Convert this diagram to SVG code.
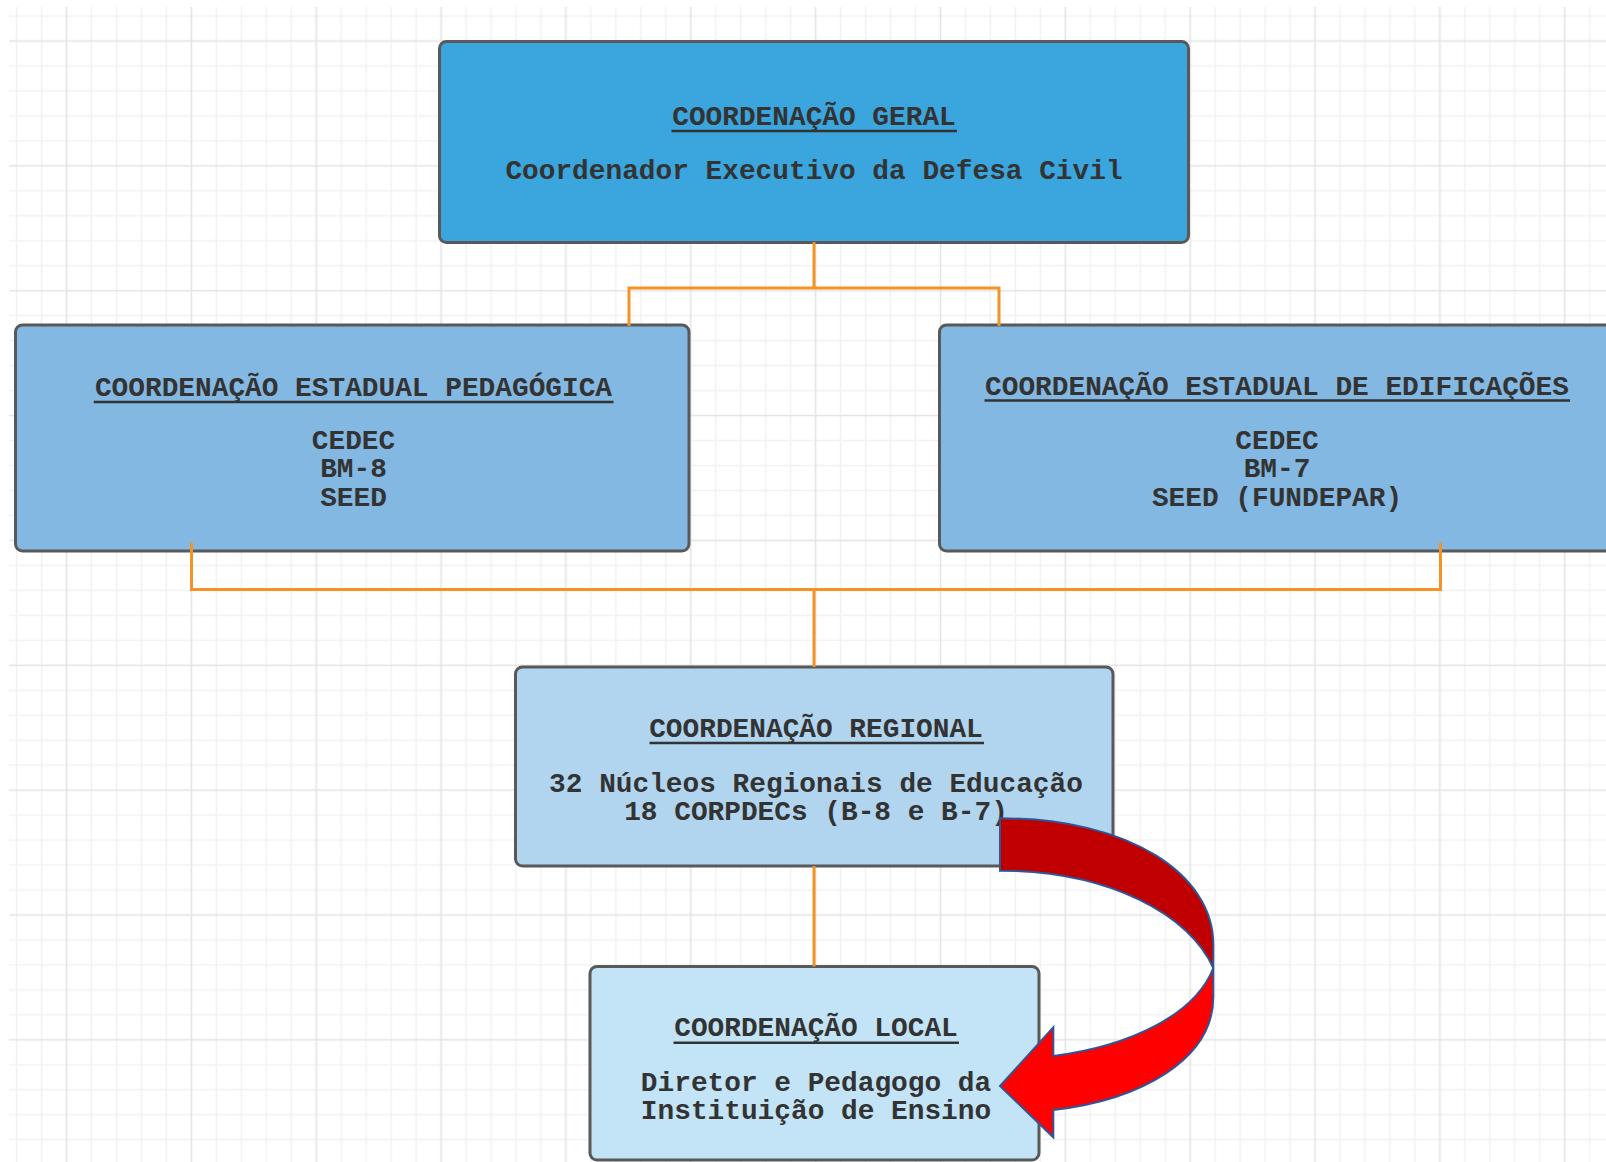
<svg xmlns="http://www.w3.org/2000/svg" width="1606" height="1162" viewBox="0 0 1606 1162">
  <style>
    .box { stroke: #595959; stroke-width: 3; }
    .t { font-family: "Liberation Mono", "DejaVu Sans Mono", monospace; font-weight: bold; font-size: 27.8px; fill: #333333; text-anchor: middle; }
    .ul { stroke: #333333; stroke-width: 2.4; }
    .conn { fill: none; stroke: #F39325; stroke-width: 3; }
    .arrow { stroke: #2F5597; stroke-width: 2; stroke-linejoin: miter; }
  </style>
  <defs>
    <pattern id="grid" patternUnits="userSpaceOnUse" x="4.1" y="-21.4" width="124.85" height="124.85">
      <g stroke="#f1f1f1" stroke-width="1.5">
        <line x1="12.49" y1="0" x2="12.49" y2="124.85"/>
        <line x1="37.46" y1="0" x2="37.46" y2="124.85"/>
        <line x1="87.4" y1="0" x2="87.4" y2="124.85"/>
        <line x1="112.37" y1="0" x2="112.37" y2="124.85"/>
        <line y1="12.49" x1="0" y2="12.49" x2="124.85"/>
        <line y1="37.46" x1="0" y2="37.46" x2="124.85"/>
        <line y1="87.4" x1="0" y2="87.4" x2="124.85"/>
        <line y1="112.37" x1="0" y2="112.37" x2="124.85"/>
      </g>
      <g stroke="#e3e3e3" stroke-width="1.6">
        <line x1="62.43" y1="0" x2="62.43" y2="124.85"/>
        <line y1="62.43" x1="0" y2="62.43" x2="124.85"/>
      </g>
    </pattern>
  </defs>

  <rect x="0" y="0" width="1606" height="1162" fill="#ffffff"/>
  <rect x="9" y="7" width="1597" height="1155" fill="url(#grid)"/>

  <g id="node-geral">
    <rect class="box" x="439.5" y="41.5" width="749" height="201" rx="7" fill="#3BA5DD"/>
    <text class="t" x="814" y="125">COORDENAÇÃO GERAL</text>
    <line class="ul" x1="671.5" y1="131" x2="957" y2="131"/>
    <text class="t" x="814" y="178.5">Coordenador Executivo da Defesa Civil</text>
  </g>

  <g id="node-pedagogica">
    <rect class="box" x="15.5" y="325" width="673.5" height="226" rx="7" fill="#83B8E2"/>
    <text class="t" x="353.5" y="396">COORDENAÇÃO ESTADUAL PEDAGÓGICA</text>
    <line class="ul" x1="93.8" y1="402" x2="613.5" y2="402"/>
    <text class="t" x="353.5" y="449"><tspan x="353.5" y="449">CEDEC</tspan><tspan x="353.5" y="477.4">BM-8</tspan><tspan x="353.5" y="505.8">SEED</tspan></text>
  </g>

  <g id="node-edificacoes">
    <rect class="box" x="939.5" y="325" width="674" height="226" rx="7" fill="#83B8E2"/>
    <text class="t" x="1277" y="394.5">COORDENAÇÃO ESTADUAL DE EDIFICAÇÕES</text>
    <line class="ul" x1="984.5" y1="400.5" x2="1570" y2="400.5"/>
    <text class="t" x="1277" y="449"><tspan x="1277" y="449">CEDEC</tspan><tspan x="1277" y="477.4">BM-7</tspan><tspan x="1277" y="505.8">SEED (FUNDEPAR)</tspan></text>
  </g>

  <g id="node-regional">
    <rect class="box" x="515.5" y="667" width="597.5" height="199" rx="7" fill="#B1D5EF"/>
    <text class="t" x="816" y="736.7">COORDENAÇÃO REGIONAL</text>
    <line class="ul" x1="649.5" y1="743" x2="984" y2="743"/>
    <text class="t" x="816" y="791.7"><tspan x="816" y="791.7">32 Núcleos Regionais de Educação</tspan><tspan x="816" y="820.1">18 CORPDECs (B-8 e B-7)</tspan></text>
  </g>

  <g id="node-local">
    <rect class="box" x="590" y="966.5" width="449" height="193.5" rx="7" fill="#C2E4F6"/>
    <text class="t" x="816" y="1036">COORDENAÇÃO LOCAL</text>
    <line class="ul" x1="673.5" y1="1042.7" x2="959" y2="1042.7"/>
    <text class="t" x="816" y="1090.7"><tspan x="816" y="1090.7">Diretor e Pedagogo da</tspan><tspan x="816" y="1119.1">Instituição de Ensino</tspan></text>
  </g>

  <g id="connectors">
    <path class="conn" d="M814,242 V288 M629,326 V288 H999 V326"/>
    <path class="conn" d="M191.5,542.5 V589.5 H1440.5 V542.5 M814,589.5 V667"/>
    <path class="conn" d="M814,866 V966.5"/>
  </g>

  <g id="curved-arrow">
    <path class="arrow" fill="#C00000" d="M1000,818.3 C1130,818 1213.3,875 1213.3,944 L1213.3,968 C1190,915 1110,871 1000,870.7 Z"/>
    <path class="arrow" fill="#FF0000" d="M1213.3,968 L1213.3,997 C1213.3,1060 1140,1100 1053.3,1110 L1053.3,1137.3 L1000,1086 L1053.3,1027.3 L1053.3,1056 C1130,1046 1195,1015 1213.3,968 Z"/>
  </g>
</svg>
